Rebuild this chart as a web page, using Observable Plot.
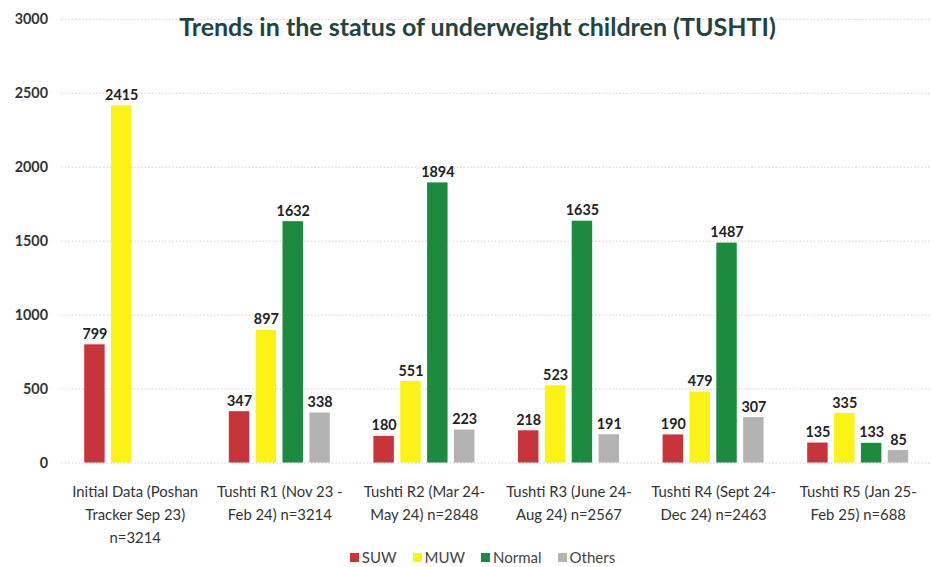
<!DOCTYPE html>
<html>
<head>
<meta charset="utf-8">
<script src="https://cdn.jsdelivr.net/npm/d3@7"></script>
<script src="https://cdn.jsdelivr.net/npm/@observablehq/plot@0.6"></script>
<style>
  html, body { margin: 0; padding: 0; background: #fff; overflow: hidden; width: 931px; height: 567px; }
  #wrap { position: relative; width: 931px; height: 567px; font-family: Lato, "Open Sans", sans-serif; }
  #chart svg { overflow: visible; }
  #title { position: absolute; top: 11px; left: 0; width: 955px; text-align: center; font-size: 25px; font-weight: 700; color: #1f4543; letter-spacing: 0px; }
  #legend { position: absolute; top: 548px; left: 0; width: 965px; display: flex; justify-content: center; gap: 16px; font-size: 15px; color: #444; }
  #legend span.item { display: inline-flex; align-items: center; }
  #legend span.sw { display: inline-block; width: 9px; height: 9px; margin-right: 3px; }
</style>
</head>
<body>
<div id="wrap">
  <div id="chart"></div>
  <div id="title">Trends in the status of underweight children (TUSHTI)</div>
  <div id="legend"></div>
</div>
<script>
const categories = [
  "Initial Data (Poshan\nTracker Sep 23)\nn=3214",
  "Tushti R1 (Nov 23 -\nFeb 24) n=3214",
  "Tushti R2 (Mar 24-\nMay 24) n=2848",
  "Tushti R3 (June 24-\nAug 24) n=2567",
  "Tushti R4 (Sept 24-\nDec 24) n=2463",
  "Tushti R5 (Jan 25-\nFeb 25) n=688"
];
const seriesNames = ["SUW", "MUW", "Normal", "Others"];
const seriesColors = ["#c7353a", "#fbf216", "#1c8a3f", "#b3b3b3"];
const SUW    = [799, 347, 180, 218, 190, 135];
const MUW    = [2415, 897, 551, 523, 479, 335];
const Normal = [null, 1632, 1894, 1635, 1487, 133];
const Others = [null, 338, 223, 191, 307, 85];
const yTicks = [0, 500, 1000, 1500, 2000, 2500, 3000];

const seriesValues = [SUW, MUW, Normal, Others];
const rows = [];
seriesNames.forEach((s, si) => {
  categories.forEach((c, ci) => {
    const v = seriesValues[si][ci];
    if (v != null) rows.push({category: c, series: s, si, value: v});
  });
});

const W = 940;
const marginLeft = 62;
const pIn = 0.26, pOut = 0.125;
const step = (W - marginLeft) / (categories.length - pIn + 2 * pOut);
const bw = step * (1 - pIn);
const slot = bw / 4;
const gap = 3;

const marks = [
  Plot.gridY(yTicks, {stroke: "#e9a9b8", strokeOpacity: 0.75, strokeDasharray: "1.5,2"}),
  Plot.axisY(yTicks, {tickSize: 0, tickPadding: 14, fontSize: 14.5, fontWeight: 700, fill: "#333", tickFormat: d => String(d), label: null}),
  Plot.text(categories, {x: d => d, frameAnchor: "bottom", lineAnchor: "top", dy: 18, lineHeight: 1.55, fontSize: 15, fill: "#333", text: d => d})
];
seriesNames.forEach((s, si) => {
  const data = rows.filter(r => r.si === si);
  marks.push(Plot.barY(data, {
    x: "category", y: "value", fill: seriesColors[si],
    insetLeft: si * slot + gap, insetRight: (3 - si) * slot + gap
  }));
  marks.push(Plot.text(data, {
    x: "category", y: "value", text: d => String(d.value),
    dx: (si - 1.5) * slot, dy: -6, lineAnchor: "bottom",
    fontSize: 14.5, fontWeight: 700, fill: "#222"
  }));
});

const chart = Plot.plot({
  width: W,
  height: 567,
  marginLeft,
  marginRight: 0,
  marginTop: 19,
  marginBottom: 100,
  style: {fontFamily: "Lato, 'Open Sans', sans-serif", background: "transparent"},
  x: {domain: categories, paddingInner: pIn, paddingOuter: pOut, axis: null},
  y: {domain: [0, 3000], axis: null},
  marks
});
document.getElementById("chart").appendChild(chart);

const legend = document.getElementById("legend");
seriesNames.forEach((s, i) => {
  const it = document.createElement("span");
  it.className = "item";
  it.innerHTML = `<span class="sw" style="background:${seriesColors[i]}"></span>${s}`;
  legend.appendChild(it);
});
</script>
</body>
</html>
